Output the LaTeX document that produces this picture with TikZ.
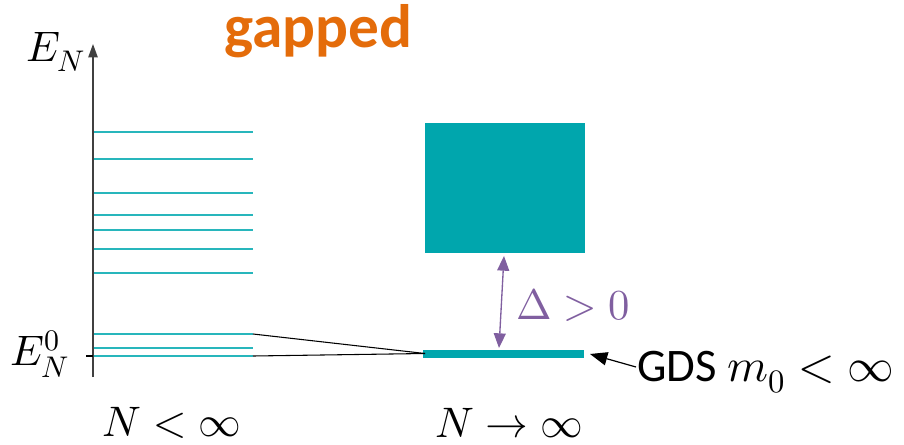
\documentclass[tikz,border=0pt]{standalone}
\usepackage{fontspec}
\setmainfont{Carlito}
\usepackage{unicode-math}
\setmathfont{Latin Modern Math}
\usetikzlibrary{arrows.meta}
\definecolor{teal1}{RGB}{0,166,173}
\definecolor{lvl}{RGB}{40,182,188}
\definecolor{orng}{RGB}{228,108,10}
\definecolor{purp}{RGB}{128,95,160}
\begin{document}
\begin{tikzpicture}[x=0.75pt,y=-0.75pt,
  level/.style={draw=lvl,line width=1.4pt},
  txt/.style={inner sep=0pt,font=\fontsize{32}{36}\selectfont},
  conn/.style={draw=black,line width=0.8pt}]
\useasboundingbox (0,0) rectangle (904,444);
% axis
\coordinate (ax0) at (93,377);
\coordinate (ax1) at (93,44);
\draw[line width=1.1pt,draw=black!75,-{Triangle[length=10pt,width=7pt]}] (ax0) -- (ax1);
\coordinate (t0) at (86,356);
\coordinate (t1) at (93,356);
\draw[line width=0.8pt] (t0) -- (t1);
% levels
\foreach \y/\n in {131.7/a,158.7/b,193/c,214.7/d,230/e,248.7/f,272.7/g,334/h,348/i,356/j}{
  \coordinate (l\n0) at (94,\y);
  \coordinate (l\n1) at (253,\y);
  \draw[level] (l\n0) -- (l\n1);
}
% bands
\node[fill=teal1,inner sep=0pt,minimum width=120pt,minimum height=97.5pt,anchor=north west] (band) at (425,123) {};
\node[fill=teal1,inner sep=0pt,minimum width=120.5pt,minimum height=5.6pt,anchor=north west] (gds) at (422.7,350) {};
% connectors
\coordinate (cm) at (425,353.5);
\draw[conn] (lh1) -- (cm);
\draw[conn] (lj1) -- (cm);
% delta arrow
\coordinate (da) at (504,256);
\coordinate (db) at (499,348);
\draw[purp,line width=1pt,{Triangle[length=11pt,width=9pt]}-{Triangle[length=11pt,width=9pt]}] (da) -- (db);
\node[txt,text=purp] (delta) at (573,305) {$\Delta > 0$};
% GDS arrow
\node[inner sep=0pt,anchor=base west,font=\fontsize{35}{40}\selectfont] (gdsl) at (637,381) {GDS $m_0 < \infty$};
\coordinate (ga) at (636,367);
\coordinate (gb) at (590,354);
\draw[line width=0.9pt,-{Triangle[length=13pt,width=10pt]}] (ga) -- (gb);
% labels
\node[txt] (EN) at (56,52) {$E_N$};
\node[txt] (EN0) at (40,354) {$E_N^0$};
\node[txt] (Nfin) at (172,423) {$N < \infty$};
\node[txt] (Ninf) at (509,423) {$N \rightarrow \infty$};
\node[inner sep=0pt,text=orng,font=\fontsize{46}{50}\selectfont\bfseries] (gap) at (318,31) {gapped};
\end{tikzpicture}
\end{document}
